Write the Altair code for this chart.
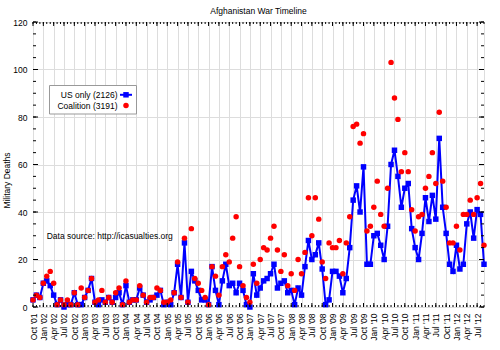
import json
import altair as alt
import pandas as pd

# Monthly military deaths, Oct 2001 .. Sep 2012
us_only = [
    3, 5, 4, 10, 11, 9, 5, 1, 3, 0,
    1, 1, 6, 1, 1, 4, 7, 12, 2, 1,
    3, 2, 4, 2, 4, 6, 1, 9, 2, 3,
    3, 8, 5, 2, 3, 4, 5, 7, 1, 2,
    1, 6, 18, 4, 27, 2, 15, 11, 7, 3,
    3, 1, 17, 7, 1, 11, 18, 9, 10, 6,
    10, 7, 1, 0, 14, 5, 8, 11, 12, 14,
    18, 8, 10, 11, 6, 7, 1, 8, 5, 17,
    28, 20, 22, 27, 16, 1, 3, 15, 15, 13,
    6, 12, 25, 45, 51, 40, 59, 18, 18, 30,
    31, 26, 20, 34, 60, 66, 55, 42, 50, 52,
    33, 25, 20, 31, 46, 36, 47, 37, 71, 42,
    31, 18, 15, 26, 16, 18, 35, 40, 29, 41, 39, 18,
]
coalition = [
    3, 5, 4, 10, 13, 15, 10, 1, 3, 1,
    3, 1, 6, 1, 8, 4, 7, 12, 2, 3,
    7, 2, 4, 2, 6, 8, 1, 11, 2, 3,
    3, 9, 5, 2, 4, 4, 8, 7, 2, 2,
    3, 6, 19, 4, 29, 2, 33, 12, 10, 7,
    4, 1, 17, 13, 5, 17, 22, 19, 29, 38,
    17, 9, 4, 2, 18, 10, 20, 25, 24, 29,
    34, 24, 15, 22, 9, 14, 7, 20, 14, 23,
    46, 30, 46, 37, 19, 12, 27, 25, 25, 28,
    14, 27, 38, 76, 77, 69, 73, 32, 34, 42,
    53, 39, 34, 50, 103, 88, 79, 57, 65, 57,
    41, 32, 38, 39, 50, 55, 65, 52, 82, 53,
    42, 27, 27, 34, 24, 39, 39, 45, 39, 46, 52, 26,
]
month = list(range(len(us_only)))

quarters = ["Oct", "Jan", "Apr", "Jul"]
tick_labels = [f"{quarters[k % 4]} '{(k + 3) // 4 + 1:02d}" for k in range(44)]
tick_values = [3 * k for k in range(44)]
y_major = [0, 20, 40, 60, 80, 100, 120]
y_minor = list(range(0, 121, 5))

legend_labels = ["US only (2126)", "Coalition (3191)"]
title_text = "Afghanistan War Timeline"
y_title = "Military Deaths"
source_text = "Data source: http://icasualties.org"

FONT = "Liberation Sans"
FS = 8.5
W, H = 451, 285
BLUE = "#0000ff"
RED = "#ff0000"

df = pd.DataFrame({"month": month, "us": us_only, "coalition": coalition})
one = pd.DataFrame({"a": [0]})

xscale = alt.Scale(domain=[0, len(month) - 1], nice=False, zero=False)
yscale = alt.Scale(domain=[0, 120], nice=False)

label_expr = f"{json.dumps(tick_labels)}[round(datum.value / 3)]"

x_axis = alt.Axis(
    values=tick_values, labelExpr=label_expr, labelAngle=270, labelPadding=6,
    title=None, grid=True, gridColor="#dddddd", ticks=False, domain=False,
    labelFont=FONT, labelFontSize=FS, labelColor="black",
)
y_axis = alt.Axis(
    values=y_major, grid=True, gridColor="#dddddd", ticks=False, domain=False,
    labelPadding=6, labelFont=FONT, labelFontSize=FS, labelColor="black",
    title=y_title, titleFont=FONT, titleFontSize=FS, titleFontWeight="normal",
    titleColor="black", titleAngle=270, titleX=-22, titleY=158,
)

def X(field):
    return alt.X(field, type="quantitative", scale=xscale, axis=x_axis)

def Y(field):
    return alt.Y(field, type="quantitative", scale=yscale, axis=y_axis)

base = alt.Chart(df)
line = base.mark_line(color=BLUE, strokeWidth=2).encode(x=X("month"), y=Y("us"))
squares = base.mark_square(color=BLUE, size=30, opacity=1).encode(x=X("month"), y=Y("us"))
dots = base.mark_circle(color=RED, size=30, opacity=1).encode(x=X("month"), y=Y("coalition"))

# inward tick marks on all four sides
xt_minor = pd.DataFrame({"v": month})
xt_major = pd.DataFrame({"v": tick_values})
yt_minor = pd.DataFrame({"v": y_minor})
yt_major = pd.DataFrame({"v": y_major})
tick_style = dict(color="black", strokeWidth=1)

def xticks(d, length):
    bottom = alt.Chart(d).mark_rule(**tick_style).encode(
        x=X("v"), y=alt.value(H), y2=alt.value(H - length))
    top = alt.Chart(d).mark_rule(**tick_style).encode(
        x=X("v"), y=alt.value(0), y2=alt.value(length))
    return [bottom, top]

def yticks(d, length):
    left = alt.Chart(d).mark_rule(**tick_style).encode(
        y=Y("v"), x=alt.value(0), x2=alt.value(length))
    right = alt.Chart(d).mark_rule(**tick_style).encode(
        y=Y("v"), x=alt.value(W), x2=alt.value(W - length))
    return [left, right]

ticks = xticks(xt_minor, 2) + xticks(xt_major, 4) + yticks(yt_minor, 3) + yticks(yt_major, 5)

# legend box drawn inside the plot
leg_box = alt.Chart(one).mark_rect(fill="white", stroke="#999999", strokeWidth=1).encode(
    x=alt.value(16.5), x2=alt.value(103.5), y=alt.value(63.5), y2=alt.value(92))
leg_t1 = alt.Chart(one).mark_text(text=legend_labels[0], align="right", baseline="middle",
                                   font=FONT, fontSize=FS, color="black").encode(
    x=alt.value(84.5), y=alt.value(72.8))
leg_t2 = alt.Chart(one).mark_text(text=legend_labels[1], align="right", baseline="middle",
                                   font=FONT, fontSize=FS, color="black").encode(
    x=alt.value(84.5), y=alt.value(83.5))
leg_line = alt.Chart(one).mark_rule(color=BLUE, strokeWidth=2).encode(
    x=alt.value(87), x2=alt.value(99), y=alt.value(72.8))
leg_sq = alt.Chart(one).mark_square(color=BLUE, size=30, opacity=1).encode(
    x=alt.value(93), y=alt.value(72.8))
leg_dot = alt.Chart(one).mark_circle(color=RED, size=30, opacity=1).encode(
    x=alt.value(93), y=alt.value(83.5))

source = alt.Chart(one).mark_text(text=source_text, align="left", baseline="middle",
                                  font=FONT, fontSize=FS, color="black").encode(
    x=alt.value(13.7), y=alt.value(213.5))

chart = alt.layer(
    line, squares, dots, *ticks, source,
    leg_box, leg_line, leg_sq, leg_dot, leg_t1, leg_t2,
).properties(
    width=W, height=H,
    title=alt.TitleParams(title_text, font=FONT, fontSize=FS, fontWeight="normal",
                          color="black", anchor="middle", frame="group", offset=3),
    padding={"left": 33, "top": 22, "right": 16, "bottom": 43},
    autosize=alt.AutoSizeParams(type="none"),
).configure_view(stroke="black", strokeWidth=1).configure(background="white")

chart.save("out.html", embed_options={"renderer": "svg", "actions": False})
